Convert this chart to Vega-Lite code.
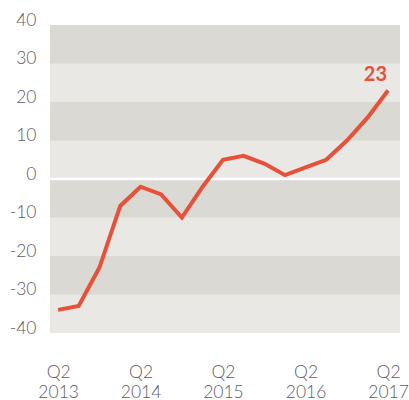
{
  "$schema": "https://vega.github.io/schema/vega-lite/v6.json",
  "width": 350,
  "height": 308,
  "autosize": "none",
  "padding": {"left": 50, "top": 25, "right": 9, "bottom": 67},
  "background": "white",
  "config": {
    "view": {"stroke": null, "fill": "#e9e8e4"},
    "font": "Lato",
    "axis": {"labelOverlap": false, "labelFlush": false, "title": null, "domain": false, "ticks": false, "grid": false, "labelFont": "Lato", "labelFontWeight": 300, "labelColor": "#5f5a66", "labelFontSize": 17.5, "labelSeparation": 0},
    "axisY": {"labelPadding": 14, "labelBaseline": "alphabetic"},
    "axisX": {"labelPadding": 30, "labelBaseline": "top", "labelLineHeight": 20, "labelAlign": "center"}
  },
  "datasets": {
    "series": [
      {"date": "2013-04-01", "value": -34},
      {"date": "2013-07-01", "value": -33},
      {"date": "2013-10-01", "value": -23},
      {"date": "2014-01-01", "value": -7},
      {"date": "2014-04-01", "value": -2},
      {"date": "2014-07-01", "value": -4},
      {"date": "2014-10-01", "value": -10},
      {"date": "2015-01-01", "value": -2},
      {"date": "2015-04-01", "value": 5},
      {"date": "2015-07-01", "value": 6},
      {"date": "2015-10-01", "value": 4},
      {"date": "2016-01-01", "value": 1},
      {"date": "2016-04-01", "value": 3},
      {"date": "2016-07-01", "value": 5},
      {"date": "2016-10-01", "value": 10},
      {"date": "2017-01-01", "value": 16},
      {"date": "2017-04-01", "value": 23}
    ],
    "bands": [
      {"lo": 30, "hi": 40},
      {"lo": 10, "hi": 20},
      {"lo": -10, "hi": 0},
      {"lo": -30, "hi": -20}
    ],
    "zero": [{"y": 0}]
  },
  "encoding": {
    "y": {
      "type": "quantitative",
      "scale": {"domain": [-40, 40]},
      "axis": {
        "values": [-40, -30, -20, -10, 0, 10, 20, 30, 40],
        "tickCount": 9,
        "labelOverlap": false,
        "labelExpr": "datum.value + ''"
      }
    }
  },
  "layer": [
    {
      "data": {"name": "bands"},
      "mark": {"type": "rect", "color": "#dad9d4"},
      "encoding": {
        "y": {"field": "lo"},
        "y2": {"field": "hi"}
      }
    },
    {
      "data": {"name": "zero"},
      "mark": {"type": "rule", "color": "white", "strokeWidth": 2.5},
      "encoding": {
        "y": {"field": "y"}
      }
    },
    {
      "data": {"name": "series"},
      "mark": {"type": "line", "color": "#e8503a", "strokeWidth": 4, "strokeJoin": "miter", "strokeCap": "butt"},
      "encoding": {
        "x": {
          "field": "date",
          "type": "temporal",
          "scale": {
            "type": "utc",
            "domain": [
              {"year": 2013, "month": 2, "date": 24, "utc": true},
              {"year": 2017, "month": 5, "date": 24, "utc": true}
            ]
          },
          "axis": {
            "values": [
              {"year": 2013, "month": 4, "date": 1, "utc": true},
              {"year": 2014, "month": 4, "date": 1, "utc": true},
              {"year": 2015, "month": 4, "date": 1, "utc": true},
              {"year": 2016, "month": 4, "date": 1, "utc": true},
              {"year": 2017, "month": 4, "date": 1, "utc": true}
            ],
            "labelExpr": "['Q2', utcFormat(datum.value, '%Y')]"
          }
        },
        "y": {"field": "value"}
      }
    },
    {
      "data": {"name": "series"},
      "transform": [{"filter": "utcyear(datum.date) == 2017 && utcmonth(datum.date) == 3"}],
      "mark": {"type": "text", "color": "#e8503a", "fontSize": 20, "fontWeight": "bold", "font": "Lato", "align": "right", "baseline": "alphabetic", "dx": -1, "dy": -9},
      "encoding": {
        "x": {"field": "date", "type": "temporal"},
        "y": {"field": "value"},
        "text": {"field": "value", "type": "quantitative"}
      }
    }
  ]
}
